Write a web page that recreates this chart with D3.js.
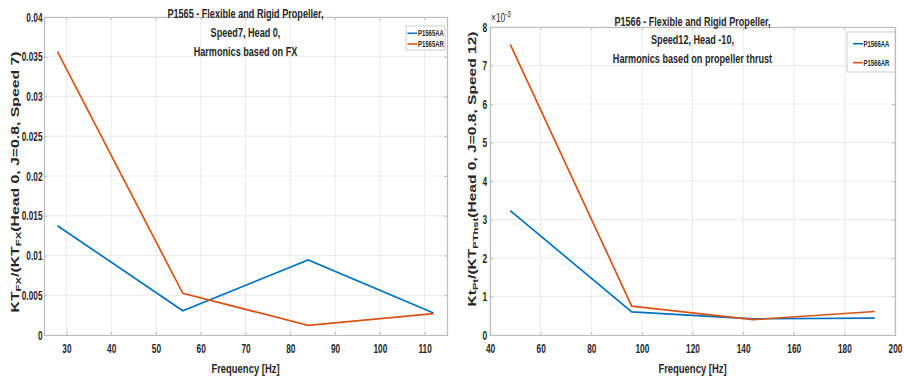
<!DOCTYPE html>
<html>
<head>
<meta charset="utf-8">
<script src="https://cdn.jsdelivr.net/npm/d3@7"></script>
<style>
  html, body { margin: 0; padding: 0; background: #fff; }
  svg { display: block; }
  text { font-family: "Liberation Sans", Arial, sans-serif; font-weight: bold; fill: #262626; }
</style>
</head>
<body>
<svg id="chart" width="904" height="379"></svg>
<script>
// Left panel: P1565, harmonics based on FX
const freqA = [28, 56, 84, 112];
const p1565AA = [0.01375, 0.00306, 0.00943, 0.00277];
const p1565AR = [0.03564, 0.00524, 0.00122, 0.00270];
const xTicksA = [30, 40, 50, 60, 70, 80, 90, 100, 110];
const yTicksA = [0, 0.005, 0.01, 0.015, 0.02, 0.025, 0.03, 0.035, 0.04];
const yTickLabelsA = ["0", "0.005", "0.01", "0.015", "0.02", "0.025", "0.03", "0.035", "0.04"];

// Right panel: P1566, harmonics based on propeller thrust
const freqB = [48, 96, 144, 192];
const p1566AA = [0.00323, 0.00060, 0.00042, 0.00044];
const p1566AR = [0.00755, 0.00075, 0.00040, 0.00061];
const xTicksB = [40, 60, 80, 100, 120, 140, 160, 180, 200];
const yTicksB = [0, 0.001, 0.002, 0.003, 0.004, 0.005, 0.006, 0.007, 0.008];
const yTickLabelsB = ["0", "1", "2", "3", "4", "5", "6", "7", "8"];

const BLUE = "#0072BD", ORANGE = "#D95319";
const SX = 0.7;      // horizontal squeeze of the figure's lettering
const SX_TICK = 0.64;
const svg = d3.select("#chart");

// horizontally condensed text placed at (x, y)
function narrowText(g, x, y, str, size, anchor, sx) {
  return g.append("text")
    .attr("transform", `translate(${x},${y}) scale(${sx || SX},1)`)
    .attr("text-anchor", anchor || "middle")
    .style("font-size", size + "px")
    .text(str);
}

function panel(cfg) {
  const x = d3.scaleLinear().domain(cfg.xDomain).range([cfg.left, cfg.right]);
  const y = d3.scaleLinear().domain(cfg.yDomain).range([cfg.bottom, cfg.top]);
  const g = svg.append("g");

  // grid
  g.append("g").selectAll("line").data(cfg.xTicks).join("line")
    .attr("x1", d => x(d)).attr("x2", d => x(d))
    .attr("y1", cfg.top).attr("y2", cfg.bottom)
    .attr("stroke", "#ebebeb").attr("stroke-width", 1);
  g.append("g").selectAll("line").data(cfg.yTicks).join("line")
    .attr("x1", cfg.left).attr("x2", cfg.right)
    .attr("y1", d => y(d)).attr("y2", d => y(d))
    .attr("stroke", "#ebebeb").attr("stroke-width", 1);

  // axes (ticks point inward, box on all four sides)
  const fmtY = d => cfg.yLabels[cfg.yTicks.indexOf(d)];
  const axB = g.append("g").attr("transform", `translate(0,${cfg.bottom})`)
    .call(d3.axisBottom(x).tickValues(cfg.xTicks).tickSize(-3).tickPadding(8.5).tickFormat(d3.format("d")));
  const axL = g.append("g").attr("transform", `translate(${cfg.left},0)`)
    .call(d3.axisLeft(y).tickValues(cfg.yTicks).tickSize(-3).tickPadding(cfg.yPad).tickFormat(fmtY));
  const axT = g.append("g").attr("transform", `translate(0,${cfg.top})`)
    .call(d3.axisTop(x).tickValues(cfg.xTicks).tickSize(-3).tickFormat(""));
  const axR = g.append("g").attr("transform", `translate(${cfg.right},0)`)
    .call(d3.axisRight(y).tickValues(cfg.yTicks).tickSize(-3).tickFormat(""));
  [axB, axL, axT, axR].forEach(a => {
    a.select(".domain").attr("stroke", "#bdbdbd").attr("stroke-width", 1.2);
    a.selectAll(".tick line").attr("stroke", "#bdbdbd");
    a.selectAll(".tick text")
      .style("font-size", "13px").style("font-family", "'Liberation Sans', Arial, sans-serif")
      .style("font-weight", "bold").attr("fill", "#262626");
  });
  axB.selectAll(".tick text").attr("transform", `scale(${SX_TICK},1)`);
  axL.selectAll(".tick text")
    .attr("x", -cfg.yPad / SX_TICK)
    .attr("transform", `scale(${SX_TICK},1)`);

  // series
  const line = d3.line().x((d, i) => x(cfg.freq[i])).y(d => y(d));
  cfg.series.forEach(s => {
    g.append("path").datum(s.values)
      .attr("fill", "none").attr("stroke", s.color)
      .attr("stroke-width", 1.7).attr("stroke-linejoin", "miter")
      .attr("d", line);
  });

  // title
  const cx = (cfg.left + cfg.right) / 2;
  cfg.title.forEach((t, i) => narrowText(g, cx, cfg.titleY + i * cfg.titleStep, t, 13));

  // x label
  narrowText(g, cx, 372.5, "Frequency [Hz]", 13.5);

  // y label with subscripts, condensed across its glyph height
  const yl = g.append("text")
    .attr("transform", `translate(${cfg.yLabelX},${cfg.yLabelY}) scale(${SX},1) rotate(-90)`)
    .attr("text-anchor", "middle")
    .attr("textLength", cfg.yLabelLen)
    .attr("lengthAdjust", "spacingAndGlyphs")
    .style("font-size", "16px");
  cfg.yLabel.forEach(p => {
    const ts = yl.append("tspan").text(p.t);
    if (p.sub) ts.attr("baseline-shift", "-28%").style("font-size", "11.5px");
  });

  // legend
  const L = cfg.legend;
  g.append("rect").attr("x", L.x).attr("y", L.y).attr("width", L.w).attr("height", L.h)
    .attr("fill", "#fff").attr("stroke", "#bdbdbd").attr("stroke-width", 0.8);
  cfg.series.forEach((s, i) => {
    const ly = L.y + L.first + i * L.step;
    g.append("line").attr("x1", L.x + L.lx).attr("x2", L.x + L.lx + 10).attr("y1", ly).attr("y2", ly)
      .attr("stroke", s.color).attr("stroke-width", 1.6);
    narrowText(g, L.x + L.lx + 10.5, ly + 3, s.name, 8.5, "start");
  });
  return { x, y, g };
}

panel({
  left: 44, right: 447, top: 17, bottom: 335,
  xDomain: [25, 115], yDomain: [0, 0.04],
  xTicks: xTicksA, yTicks: yTicksA, yLabels: yTickLabelsA, yPad: 1.5,
  freq: freqA,
  series: [
    { name: "P1565AA", values: p1565AA, color: BLUE },
    { name: "P1565AR", values: p1565AR, color: ORANGE }
  ],
  title: ["P1565 - Flexible and Rigid Propeller,", "Speed7, Head 0,", "Harmonics based on FX"],
  titleY: 17.8, titleStep: 19,
  yLabelX: 18.5, yLabelY: 182, yLabelLen: 261,
  yLabel: [{ t: "KT" }, { t: "FX", sub: true }, { t: "/(KT" }, { t: "FX", sub: true }, { t: "(Head 0, J=0.8, Speed 7)" }],
  legend: { x: 406, y: 26, w: 39, h: 24, first: 7.3, step: 10.7, lx: 1.5 }
});

const pB = panel({
  left: 490, right: 895, top: 27, bottom: 335,
  xDomain: [40, 200], yDomain: [0, 0.008],
  xTicks: xTicksB, yTicks: yTicksB, yLabels: yTickLabelsB, yPad: 3,
  freq: freqB,
  series: [
    { name: "P1566AA", values: p1566AA, color: BLUE },
    { name: "P1566AR", values: p1566AR, color: ORANGE }
  ],
  title: ["P1566 - Flexible and Rigid Propeller,", "Speed12, Head -10,", "Harmonics based on propeller thrust"],
  titleY: 25.8, titleStep: 18.5,
  yLabelX: 476, yLabelY: 169, yLabelLen: 275,
  yLabel: [{ t: "Kt" }, { t: "Pt", sub: true }, { t: "/(KT" }, { t: "PThst", sub: true }, { t: "(Head 0, J=0.8, Speed 12)" }],
  legend: { x: 847, y: 32, w: 48, h: 40, first: 11.7, step: 19, lx: 6 }
});

// exponent marker for the right panel's y axis
const ex = pB.g.append("text")
  .attr("transform", `translate(491,22) scale(${SX},1)`)
  .style("font-weight", "normal").style("font-size", "12px");
ex.append("tspan").text("\u00d710");
ex.append("tspan").attr("baseline-shift", "super").style("font-size", "9px").text("-3");
</script>
</body>
</html>
